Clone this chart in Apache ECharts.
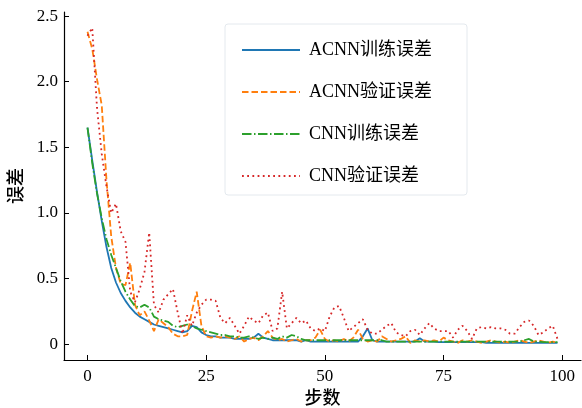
<!DOCTYPE html>
<html>
<head>
<meta charset="utf-8">
<script src="https://cdn.jsdelivr.net/npm/echarts@6/dist/echarts.min.js"></script>
<style>html,body{margin:0;padding:0;background:#fff}#c{width:582px;height:408px}</style>
</head>
<body>
<div id="c"></div>
<script>
var seriesNames = ['ACNN训练误差', 'ACNN验证误差', 'CNN训练误差', 'CNN验证误差'];
var xTicks = [0, 25, 50, 75, 100];
var yTicks = [0, 0.5, 1.0, 1.5, 2.0, 2.5];
var xName = '步数';
var yName = '误差';

var acnnTrain = [1.65,1.40,1.16,0.94,0.74,0.58,0.47,0.39,0.33,0.28,
  0.24,0.21,0.19,0.17,0.15,0.14,0.13,0.12,0.11,0.10,
  0.09,0.10,0.14,0.13,0.09,0.07,0.06,0.06,0.05,0.05,
  0.05,0.04,0.04,0.04,0.04,0.05,0.08,0.05,0.04,0.03,
  0.03,0.03,0.03,0.03,0.03,0.02,0.03,0.02,0.02,0.02,
  0.02,0.02,0.02,0.02,0.02,0.02,0.02,0.02,0.06,0.12,
  0.03,0.02,0.02,0.02,0.02,0.02,0.02,0.02,0.02,0.02,
  0.045,0.02,0.02,0.02,0.015,0.015,0.015,0.015,0.015,0.015,
  0.015,0.015,0.015,0.015,0.01,0.01,0.01,0.01,0.01,0.01,
  0.01,0.01,0.01,0.01,0.01,0.01,0.01,0.01,0.01,0.01];

var acnnVal = [2.38,2.25,2.02,1.82,1.25,0.82,0.58,0.46,0.45,0.62,
  0.30,0.22,0.25,0.18,0.10,0.19,0.16,0.13,0.08,0.06,
  0.06,0.07,0.25,0.40,0.14,0.06,0.05,0.06,0.05,0.06,
  0.05,0.04,0.06,0.02,0.04,0.05,0.03,0.06,0.10,0.05,
  0.03,0.04,0.02,0.03,0.04,0.02,0.03,0.03,0.05,0.11,
  0.04,0.02,0.03,0.02,0.04,0.02,0.05,0.11,0.04,0.02,
  0.03,0.02,0.06,0.04,0.02,0.03,0.04,0.06,0.01,0.03,
  0.02,0.03,0.02,0.03,0.02,0.05,0.03,0.02,0.01,0.03,
  0.02,0.03,0.02,0.01,0.02,0.03,0.02,0.01,0.02,0.01,
  0.02,0.03,0.02,0.01,0.02,0.03,0.02,0.01,0.02,0.01];

var cnnTrain = [1.65,1.38,1.15,0.96,0.80,0.68,0.58,0.48,0.40,0.34,
  0.29,0.28,0.30,0.28,0.21,0.19,0.18,0.17,0.14,0.13,
  0.14,0.15,0.14,0.12,0.11,0.10,0.09,0.08,0.07,0.07,
  0.06,0.06,0.05,0.05,0.06,0.05,0.04,0.05,0.04,0.05,
  0.04,0.06,0.05,0.07,0.06,0.04,0.03,0.03,0.03,0.03,
  0.03,0.03,0.03,0.03,0.03,0.03,0.03,0.03,0.03,0.03,
  0.03,0.03,0.03,0.02,0.02,0.02,0.02,0.02,0.02,0.02,
  0.02,0.02,0.02,0.02,0.02,0.02,0.02,0.02,0.02,0.02,
  0.02,0.02,0.02,0.02,0.02,0.02,0.02,0.02,0.02,0.02,
  0.02,0.02,0.03,0.04,0.02,0.02,0.015,0.015,0.015,0.015];

var cnnVal = [2.35,2.41,1.80,1.45,1.20,1.00,1.07,0.86,0.78,0.40,
  0.32,0.42,0.55,0.85,0.30,0.24,0.34,0.38,0.42,0.24,
  0.08,0.22,0.14,0.24,0.30,0.34,0.34,0.33,0.20,0.16,
  0.20,0.14,0.08,0.14,0.21,0.18,0.16,0.22,0.24,0.10,
  0.12,0.40,0.12,0.16,0.20,0.16,0.18,0.12,0.10,0.12,
  0.10,0.21,0.28,0.29,0.20,0.10,0.13,0.16,0.19,0.11,
  0.08,0.08,0.11,0.14,0.16,0.09,0.07,0.06,0.10,0.11,
  0.07,0.12,0.16,0.12,0.10,0.10,0.10,0.05,0.11,0.14,
  0.10,0.04,0.12,0.13,0.12,0.13,0.12,0.12,0.11,0.08,
  0.08,0.13,0.17,0.18,0.14,0.07,0.09,0.12,0.14,0.04];

var allValues = [acnnTrain, acnnVal, cnnTrain, cnnVal];
var colors = ['#1f77b4', '#ff7f0e', '#2ca02c', '#d62728'];
var dashes = ['solid', [6.5, 3], [9.5, 2.5, 1.5, 2.5], [1.8, 3.4]];

var FONT = "'Liberation Serif', 'Noto Sans CJK SC', serif";

function toPairs(arr) {
  return arr.map(function (v, i) { return [i, v]; });
}

var chart = echarts.init(document.getElementById('c'), null, { renderer: 'canvas' });

var series = seriesNames.map(function (name, k) {
  return {
    name: name,
    type: 'line',
    data: toPairs(allValues[k]),
    showSymbol: false,
    symbol: 'none',
    animation: false,
    lineStyle: { color: colors[k], width: 1.8, type: dashes[k], cap: 'butt' },
    itemStyle: { color: colors[k] }
  };
});

chart.setOption({
  animation: false,
  backgroundColor: '#fff',
  grid: { left: 64, top: 12, width: 517, height: 348, containLabel: false, outerBoundsMode: 'none' },
  graphic: [{
    type: 'rect',
    shape: { x: 225, y: 24, width: 242, height: 171, r: 3 },
    style: { fill: 'rgba(255,255,255,0.8)', stroke: '#e4e9ee', lineWidth: 1 },
    z: 5
  }],
  legend: {
    data: seriesNames,
    orient: 'vertical',
    left: 236,
    top: 36,
    itemWidth: 58,
    itemHeight: 14,
    itemGap: 24,
    z: 10,
    itemStyle: { color: 'rgba(0,0,0,0)', borderWidth: 0, opacity: 0 },
    textStyle: { fontFamily: FONT, fontSize: 18, color: '#000', lineHeight: 18, padding: [0, 0, 0, 4] }
  },
  xAxis: {
    type: 'value',
    min: -4.95,
    max: 103.95,
    name: xName,
    nameLocation: 'middle',
    nameGap: 24,
    nameTextStyle: { fontFamily: FONT, fontSize: 18, color: '#000', fontWeight: 500 },
    axisLine: { show: true, onZero: false, lineStyle: { color: '#000', width: 1.2 } },
    axisTick: { show: true, inside: true, length: 5, customValues: xTicks, lineStyle: { color: '#000', width: 1 } },
    axisLabel: { customValues: xTicks, margin: 8, fontFamily: FONT, fontSize: 17, color: '#000' },
    splitLine: { show: false }
  },
  yAxis: {
    type: 'value',
    min: -0.1205,
    max: 2.531,
    name: yName,
    nameLocation: 'middle',
    nameRotate: 90,
    nameGap: 38,
    nameTextStyle: { fontFamily: FONT, fontSize: 18, color: '#000', fontWeight: 500 },
    axisLine: { show: true, onZero: false, lineStyle: { color: '#000', width: 1.2 } },
    axisTick: { show: true, inside: true, length: 5, customValues: yTicks, lineStyle: { color: '#000', width: 1 } },
    axisLabel: {
      customValues: yTicks, margin: 6, fontFamily: FONT, fontSize: 17, color: '#000',
      formatter: function (v) { return v === 0 ? '0' : v.toFixed(1); }
    },
    splitLine: { show: false }
  },
  series: series
});
</script>
</body>
</html>
